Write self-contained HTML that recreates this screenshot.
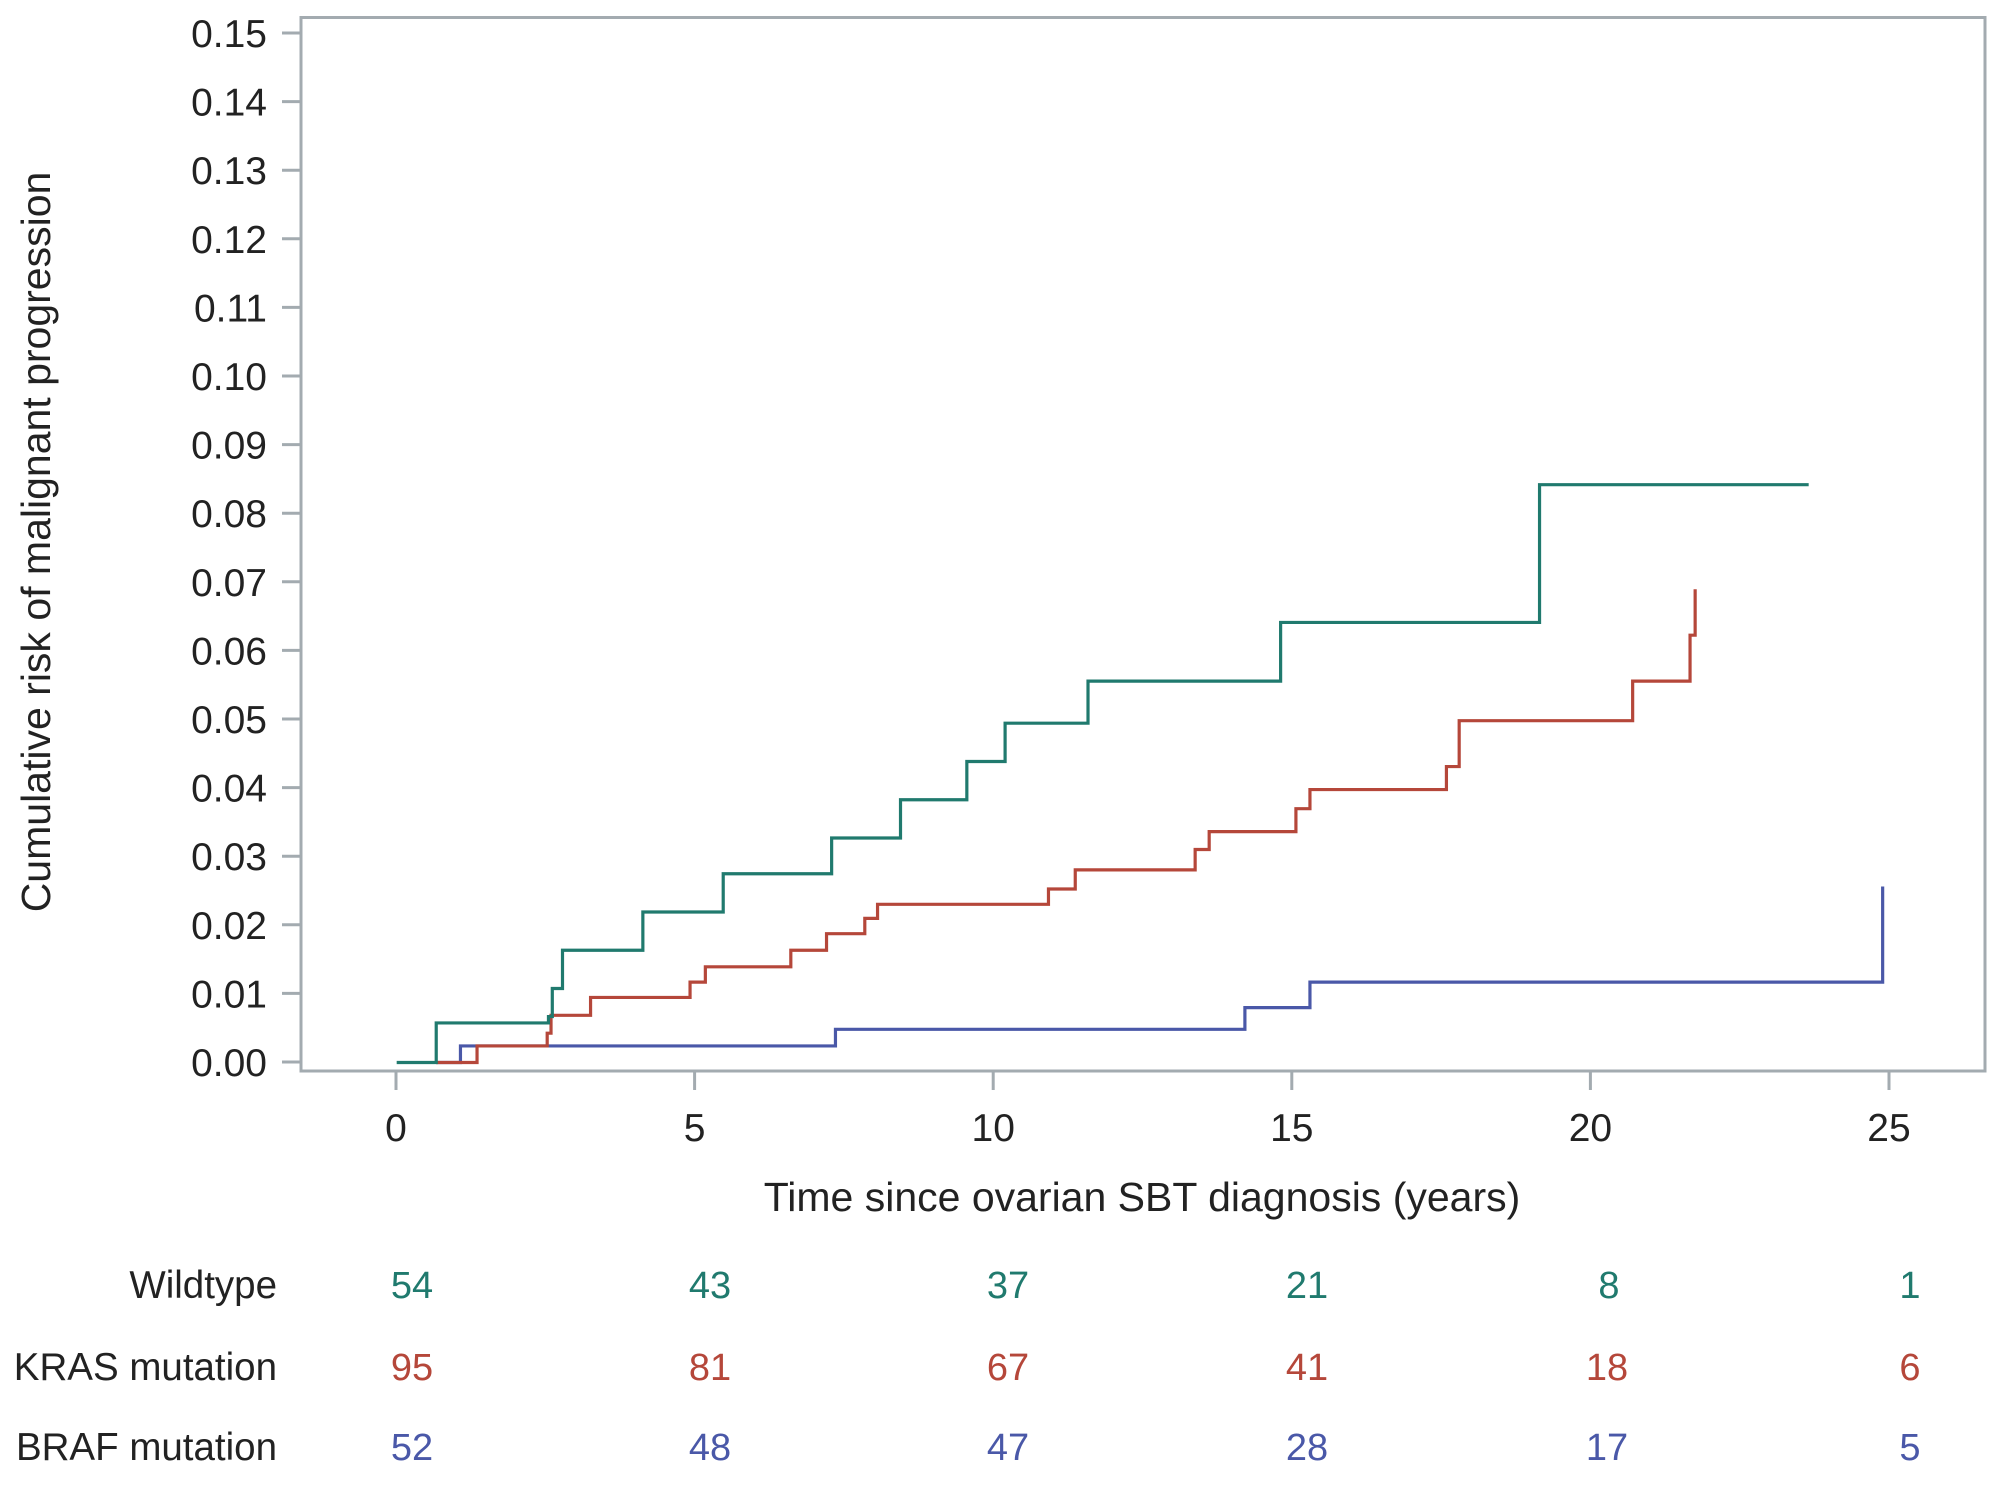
<!DOCTYPE html>
<html><head><meta charset="utf-8"><style>
html,body{margin:0;padding:0;background:#fff;}
svg{display:block;}
text{font-family:"Liberation Sans",Arial,sans-serif;}
</style></head><body>
<svg width="2000" height="1486" viewBox="0 0 2000 1486" xmlns="http://www.w3.org/2000/svg">
<rect width="2000" height="1486" fill="#fff"/>
<rect x="301" y="17.5" width="1684" height="1053.5" fill="none" stroke="#a3abb0" stroke-width="3"/>
<g stroke="#a3abb0" stroke-width="3">
<line x1="282" x2="301" y1="33" y2="33"/><line x1="282" x2="301" y1="101.6" y2="101.6"/>
<line x1="282" x2="301" y1="170.2" y2="170.2"/><line x1="282" x2="301" y1="238.8" y2="238.8"/>
<line x1="282" x2="301" y1="307.4" y2="307.4"/><line x1="282" x2="301" y1="376" y2="376"/>
<line x1="282" x2="301" y1="444.6" y2="444.6"/><line x1="282" x2="301" y1="513.2" y2="513.2"/>
<line x1="282" x2="301" y1="581.8" y2="581.8"/><line x1="282" x2="301" y1="650.4" y2="650.4"/>
<line x1="282" x2="301" y1="719" y2="719"/><line x1="282" x2="301" y1="787.6" y2="787.6"/>
<line x1="282" x2="301" y1="856.2" y2="856.2"/><line x1="282" x2="301" y1="924.8" y2="924.8"/>
<line x1="282" x2="301" y1="993.4" y2="993.4"/><line x1="282" x2="301" y1="1062" y2="1062"/>
<line x1="396" x2="396" y1="1071" y2="1090"/><line x1="694.6" x2="694.6" y1="1071" y2="1090"/>
<line x1="993.2" x2="993.2" y1="1071" y2="1090"/><line x1="1291.8" x2="1291.8" y1="1071" y2="1090"/>
<line x1="1590.4" x2="1590.4" y1="1071" y2="1090"/><line x1="1889" x2="1889" y1="1071" y2="1090"/>
</g>
<g font-size="39" fill="#222" text-anchor="end">
<text x="267" y="47">0.15</text><text x="267" y="115.6">0.14</text><text x="267" y="184.2">0.13</text>
<text x="267" y="252.8">0.12</text><text x="267" y="321.4">0.11</text><text x="267" y="390">0.10</text>
<text x="267" y="458.6">0.09</text><text x="267" y="527.2">0.08</text><text x="267" y="595.8">0.07</text>
<text x="267" y="664.4">0.06</text><text x="267" y="733">0.05</text><text x="267" y="801.6">0.04</text>
<text x="267" y="870.2">0.03</text><text x="267" y="938.8">0.02</text><text x="267" y="1007.4">0.01</text>
<text x="267" y="1076">0.00</text>
</g>
<g font-size="39" fill="#222" text-anchor="middle">
<text x="396" y="1141">0</text><text x="694.6" y="1141">5</text><text x="993.2" y="1141">10</text>
<text x="1291.8" y="1141">15</text><text x="1590.4" y="1141">20</text><text x="1889" y="1141">25</text>
</g>
<text x="1142" y="1211" font-size="41" fill="#222" text-anchor="middle">Time since ovarian SBT diagnosis (years)</text>
<text transform="translate(50,542) rotate(-90)" font-size="41" fill="#222" text-anchor="middle">Cumulative risk of malignant progression</text>
<g transform="scale(1.27551)" fill="none" stroke-width="2.5">
<path stroke="#4a58a8" d="M342 833 H361 V820 H655 V807 H976 V790 H1027 V770 H1476 V695"/>
<path stroke="#b5473a" d="M342 833 H374 V820 H429 V810 H432 V796 H463 V782 H541 V770 H553 V758 H620 V745 H648 V732 H678 V720 H688 V709 H822 V697 H843 V682 H937 V666 H948 V652 H1016 V634 H1027 V619 H1134 V601 H1144 V565 H1280 V534 H1325 V498 H1329 V462"/>
<path stroke="#207a6e" d="M311 833 H342 V802 H430 V797 H433 V775 H441 V745 H504 V715 H567 V685 H652 V657 H706 V627 H758 V597 H788 V567 H853 V534 H1004 V488 H1207 V380 H1418"/>
</g>
<g font-size="38.5" fill="#222" text-anchor="end">
<text x="277" y="1298">Wildtype</text>
<text x="277" y="1380">KRAS mutation</text>
<text x="277" y="1460">BRAF mutation</text>
</g>
<g font-size="38" text-anchor="middle">
<g fill="#207a6e"><text x="412" y="1298">54</text><text x="710" y="1298">43</text><text x="1008" y="1298">37</text><text x="1307" y="1298">21</text><text x="1609" y="1298">8</text><text x="1910" y="1298">1</text></g>
<g fill="#b5473a"><text x="412" y="1380">95</text><text x="710" y="1380">81</text><text x="1008" y="1380">67</text><text x="1307" y="1380">41</text><text x="1607" y="1380">18</text><text x="1910" y="1380">6</text></g>
<g fill="#4a58a8"><text x="412" y="1460">52</text><text x="710" y="1460">48</text><text x="1008" y="1460">47</text><text x="1307" y="1460">28</text><text x="1607" y="1460">17</text><text x="1910" y="1460">5</text></g>
</g>
</svg>
</body></html>
